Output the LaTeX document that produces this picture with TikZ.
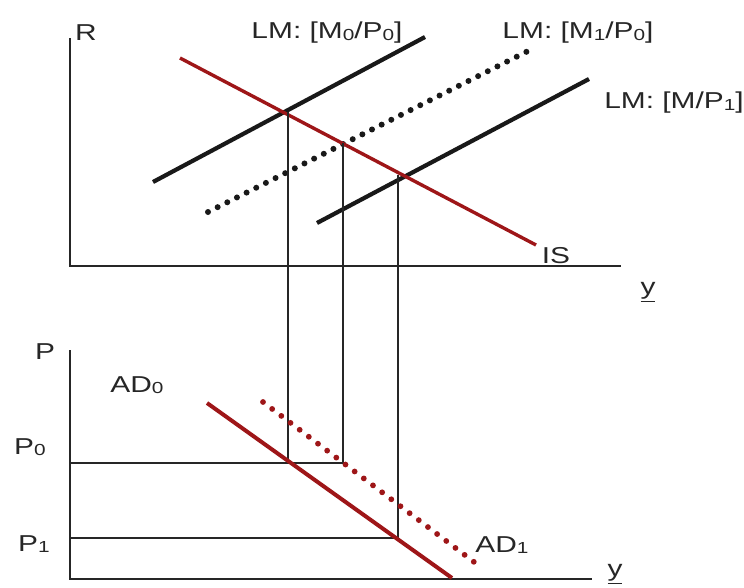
\documentclass[tikz,border=0pt]{standalone}
\usepackage{fontspec}
\setmainfont{Liberation Sans}
\definecolor{isred}{RGB}{158,22,24}
\newcommand{\sbs}[1]{{\fontsize{16}{16}\selectfont\raisebox{-1.5pt}{#1}}}
\newcommand{\wide}[1]{\scalebox{1.3}[1]{#1}}
\tikzset{
  lbl/.style={inner sep=0pt, text=black!85, font=\fontsize{23}{26}\selectfont},
  axis/.style={line width=1.8pt, draw=black!85},
  guide/.style={line width=1.3pt, draw=black!85},
  lmline/.style={line width=4.2pt, draw=black!90},
  lmdots/.style={line width=6pt, draw=black!90, line cap=round, dash pattern=on 0pt off 10.8pt},
  isline/.style={line width=3.4pt, draw=isred},
  adline/.style={line width=4pt, draw=isred},
  addots/.style={line width=5.8pt, draw=isred, line cap=round, dash pattern=on 0pt off 11.5pt},
}
\begin{document}
\begin{tikzpicture}[x=1pt,y=-1pt]
\useasboundingbox (0,0) rectangle (744,587);
% upper panel axes
\coordinate (uo) at (70,266);
\coordinate (utop) at (70,38);
\coordinate (uright) at (621,266);
\draw[axis] (utop) -- (uo) -- (uright);
% curves
\coordinate (is1) at (180,58);
\coordinate (is2) at (536,245);
\coordinate (lma1) at (153,182);
\coordinate (lma2) at (425,37);
\coordinate (lmb1) at (208,212);
\coordinate (lmb2) at (530,50);
\coordinate (lmc1) at (317,223);
\coordinate (lmc2) at (589,79);
\draw[lmline] (lma1) -- (lma2);
\draw[lmdots] (lmb1) -- (lmb2);
\draw[lmline] (lmc1) -- (lmc2);
\draw[isline] (is1) -- (is2);
% intersections
\coordinate (e0) at (288,112);
\coordinate (e1) at (343,143);
\coordinate (e2) at (398,175);
% lower panel axes
\coordinate (lo) at (70,579);
\coordinate (ltop) at (70,350);
\coordinate (lright) at (592,579);
\draw[axis] (ltop) -- (lo) -- (lright);
\coordinate (p0a) at (70,463);
\coordinate (p1a) at (70,538);
\coordinate (f0) at (288,463);
\coordinate (f1) at (343,463);
\coordinate (f2) at (398,538);
% guides
\draw[guide] (e0) -- (f0);
\draw[guide] (e1) -- (f1);
\draw[guide] (e2) -- (f2);
\draw[guide] (p0a) -- (f1);
\draw[guide] (p1a) -- (f2);
% AD curves
\coordinate (ad0a) at (207,403);
\coordinate (ad0b) at (452,578);
\coordinate (ad1a) at (263,402);
\coordinate (ad1b) at (478,565);
\draw[adline] (ad0a) -- (ad0b);
\draw[addots] (ad1a) -- (ad1b);
% labels
\node[lbl] (lR) at (86,33) {\wide{R}};
\node[lbl] (lLM0) at (327,33) {\wide{LM: [M\sbs{0}/P\sbs{0}]}};
\node[lbl] (lLM1) at (578,33) {\wide{LM: [M\sbs{1}/P\sbs{0}]}};
\node[lbl] (lLM2) at (674,103) {\wide{LM: [M/P\sbs{1}]}};
\node[lbl] (lIS) at (556,256) {\wide{IS}};
\node[lbl] (ly1) at (648,292) {\wide{\underline{y}}};
\node[lbl] (lP) at (45,352) {\wide{P}};
\node[lbl] (lAD0) at (137,385) {\wide{AD\sbs{0}}};
\node[lbl] (lP0) at (30,447) {\wide{P\sbs{0}}};
\node[lbl] (lP1) at (34,544) {\wide{P\sbs{1}}};
\node[lbl] (lAD1) at (502,545) {\wide{AD\sbs{1}}};
\node[lbl] (ly2) at (615,574) {\wide{\underline{y}}};
\end{tikzpicture}
\end{document}
